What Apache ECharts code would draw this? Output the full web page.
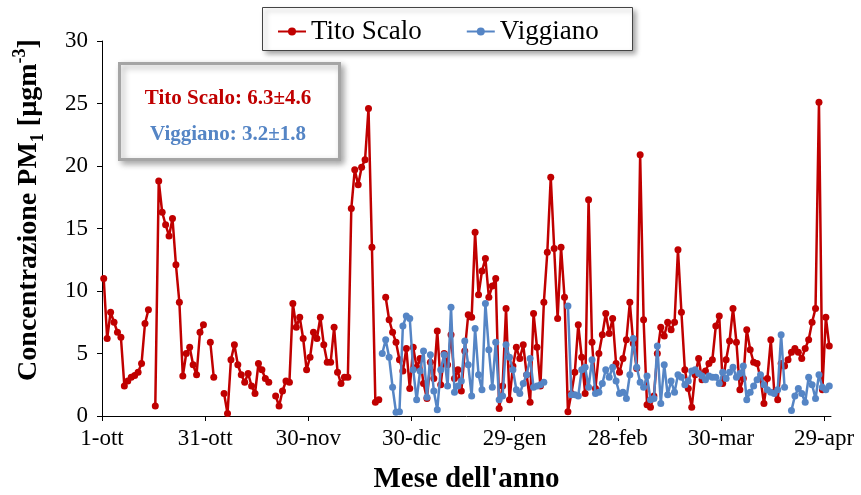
<!DOCTYPE html>
<html>
<head>
<meta charset="utf-8">
<script src="https://cdn.jsdelivr.net/npm/echarts@6/dist/echarts.min.js"></script>
<style>
html,body{margin:0;padding:0;background:#fff;}
#c{width:861px;height:495px;}
</style>
</head>
<body>
<div id="c"></div>
<script>
// x tick labels (every 30 days starting 1-ott)
const xTickLabels = ['1-ott','31-ott','30-nov','30-dic','29-gen','28-feb','30-mar','29-apr'];
const yTicks = [0,5,10,15,20,25,30];
const seriesNames = ['Tito Scalo','Viggiano'];
const statsTexts = ['Tito Scalo: 6.3\u00b14.6','Viggiano: 3.2\u00b11.8'];

// daily values, index 0 = 1 October (null = missing day)
const titoScalo = [
 11.0,6.2,8.3,7.5,6.7,6.3,2.4,2.8,3.1,3.25,
 3.5,4.2,7.4,8.5,null,0.8,18.8,16.3,15.3,14.4,
 15.8,12.1,9.1,3.2,5.0,5.5,4.1,3.3,6.7,7.3,
 null,5.9,3.1,null,null,1.8,0.2,4.5,5.7,4.1,
 3.3,2.7,3.4,2.4,1.8,4.2,3.7,3.0,2.7,null,
 1.6,0.8,2.0,2.8,2.7,9.0,7.1,7.9,6.2,3.7,
 4.7,6.7,6.2,7.9,5.7,4.3,4.3,7.1,3.5,2.6,
 3.1,3.1,16.6,19.7,18.5,19.9,20.5,24.6,13.5,1.1,
 1.3,null,9.5,7.7,6.7,5.9,4.5,3.6,5.4,2.2,
 5.5,3.9,4.6,2.6,1.4,4.3,3.0,6.8,2.5,5.0,
 4.1,6.5,3.0,3.7,2.0,5.2,8.1,7.9,14.7,9.7,
 11.6,12.6,9.5,10.4,11.0,0.6,2.4,8.6,1.3,4.0,
 5.5,4.6,5.7,3.3,1.1,8.2,5.5,2.4,9.1,13.1,
 19.1,13.4,7.8,13.5,9.5,0.35,1.8,3.5,7.3,4.7,
 1.8,17.3,5.9,2.2,5.0,6.5,8.2,6.6,7.8,4.2,
 3.5,4.6,6.1,9.1,5.8,3.8,20.9,7.7,0.9,0.7,
 1.6,5.0,7.1,6.4,7.5,6.9,7.5,13.3,8.3,3.7,
 2.2,0.7,3.3,4.6,2.9,3.6,4.2,4.5,7.2,8.0,
 2.6,4.5,6.0,8.6,5.9,2.1,3.0,6.9,5.3,4.3,
 4.2,3.0,1.0,3.0,6.1,1.9,1.3,4.2,4.0,4.5,
 5.1,5.4,5.1,4.6,5.4,6.1,7.5,8.6,25.1,2.1,
 7.9,5.6
];
const viggianoStartDay = 81;
const viggiano = [
 5.0,6.1,4.7,2.3,0.3,0.35,7.2,8.0,7.8,
 3.7,1.3,3.6,5.2,1.5,4.9,2.0,0.5,3.7,4.9,
 2.4,8.7,1.9,2.4,2.8,6.0,4.1,1.6,7.0,3.3,
 2.1,9.0,5.3,2.3,5.9,1.3,1.6,5.7,4.7,3.7,
 2.1,1.8,2.6,3.3,4.6,2.3,2.4,2.5,2.7,null,
 null,null,null,null,null,8.8,1.7,1.7,1.6,3.7,
 3.9,2.3,4.5,1.8,1.9,2.6,3.7,3.1,3.9,2.8,
 1.8,1.9,1.4,3.3,6.2,3.9,2.7,2.3,3.2,1.3,
 1.4,5.6,1.0,4.1,1.7,2.8,1.9,3.3,3.1,2.5,
 2.8,3.6,3.7,3.4,3.2,2.9,3.2,3.1,3.1,2.6,
 3.5,3.0,3.5,3.9,3.1,3.4,4.0,1.3,1.9,2.4,
 2.9,3.3,2.5,2.1,1.9,1.8,2.1,6.5,2.3,null,
 0.45,1.6,2.2,1.8,1.1,3.1,2.5,1.4,3.3,2.3,
 2.1,2.4
];

const RED = '#c00000';
const BLUE = '#5585c5';
const FONT = "'Liberation Serif','Times New Roman',serif";

function toPoints(arr, start) {
  return arr.map((v, i) => [start + i + 0.5, v]);
}

const chart = echarts.init(document.getElementById('c'), null, {renderer: 'canvas'});
chart.setOption({
  animation: false,
  backgroundColor: '#fff',
  grid: {left: 102, right: 30, top: 41, bottom: 79, containLabel: false, outerBoundsMode: 'none'},
  legend: {
    data: seriesNames,
    left: 272, top: 13,
    itemWidth: 28, itemHeight: 10, itemGap: 44,
    textStyle: {fontFamily: FONT, fontSize: 27, color: '#000'},
    z: 10
  },
  xAxis: {
    type: 'value', min: 0, max: 212, interval: 30,
    splitLine: {show: false},
    axisLine: {lineStyle: {color: '#000', width: 1}},
    axisTick: {show: true, length: 5, customValues: xTickLabels.map((_, i) => i * 30), lineStyle: {color: '#000'}},
    axisLabel: {
      customValues: xTickLabels.map((_, i) => i * 30),
      formatter: v => xTickLabels[Math.round(v / 30)] || '',
      fontFamily: FONT, fontSize: 23, color: '#000', margin: 11
    },
    name: "Mese dell'anno",
    nameLocation: 'middle', nameGap: 49,
    nameTextStyle: {fontFamily: FONT, fontSize: 29, fontWeight: 'bold', color: '#000'}
  },
  yAxis: {
    type: 'value', min: yTicks[0], max: yTicks[yTicks.length - 1], interval: 5,
    splitLine: {show: false},
    axisLine: {show: true, lineStyle: {color: '#000', width: 1}},
    axisTick: {show: true, length: 5, lineStyle: {color: '#000'}},
    axisLabel: {fontFamily: FONT, fontSize: 23, color: '#000', margin: 14}
  },
  graphic: [
    {
      type: 'rect', left: 262, top: 7, z: 1,
      shape: {width: 370, height: 43},
      style: {fill: '#fff', stroke: '#444', lineWidth: 1, shadowBlur: 5, shadowOffsetX: 3, shadowOffsetY: 3, shadowColor: 'rgba(0,0,0,0.35)'}
    },
    {
      type: 'rect', left: 118, top: 62, z: 1,
      shape: {width: 220, height: 96},
      style: {fill: '#fff', stroke: '#a5a5a5', lineWidth: 3, shadowBlur: 6, shadowOffsetX: 3, shadowOffsetY: 3, shadowColor: 'rgba(0,0,0,0.3)'}
    },
    {
      type: 'text', x: 228, y: 99, z: 2,
      style: {text: statsTexts[0], fill: RED, font: "bold 21px 'Liberation Serif', serif", align: 'center', verticalAlign: 'middle'}
    },
    {
      type: 'text', x: 228, y: 135, z: 2,
      style: {text: statsTexts[1], fill: BLUE, font: "bold 21px 'Liberation Serif', serif", align: 'center', verticalAlign: 'middle'}
    },
    {
      type: 'text', x: 29, y: 210, rotation: Math.PI / 2, z: 2,
      style: {
        text: 'Concentrazione PM{sub|1} [\u00b5gm{sup|-3}]',
        fill: '#000', align: 'center', verticalAlign: 'middle',
        fontFamily: FONT, fontSize: 28, fontWeight: 'bold', lineHeight: 36,
        rich: {
          sub: {fontFamily: FONT, fontSize: 18, fontWeight: 'bold', verticalAlign: 'bottom', lineHeight: 36, fill: '#000'},
          sup: {fontFamily: FONT, fontSize: 18, fontWeight: 'bold', verticalAlign: 'top', lineHeight: 36, fill: '#000'}
        }
      }
    }
  ],
  series: [
    {
      name: seriesNames[0], type: 'line',
      data: toPoints(titoScalo, 0),
      connectNulls: false,
      symbol: 'circle', symbolSize: 7,
      itemStyle: {color: RED},
      lineStyle: {color: RED, width: 2.5},
      z: 2
    },
    {
      name: seriesNames[1], type: 'line',
      data: toPoints(viggiano, viggianoStartDay),
      connectNulls: false,
      symbol: 'circle', symbolSize: 7,
      itemStyle: {color: BLUE},
      lineStyle: {color: BLUE, width: 2.5},
      z: 3
    }
  ]
});
</script>
</body>
</html>
